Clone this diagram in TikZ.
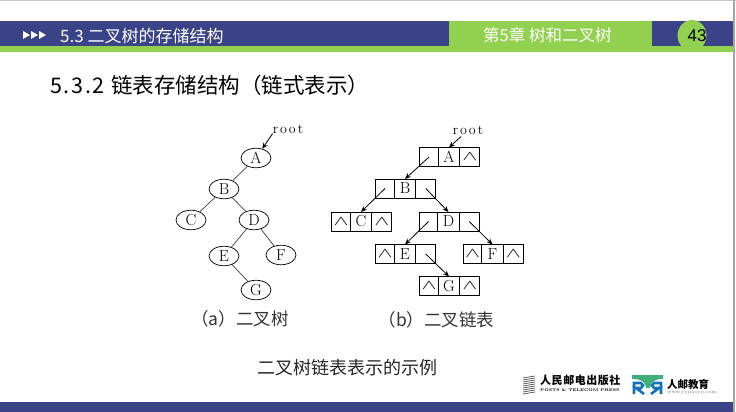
\documentclass[tikz,border=0pt]{standalone}
\usepackage{fontspec}
\usepackage{tikz}
\usetikzlibrary{positioning,shapes.geometric,arrows.meta}
\newfontfamily\cjk{Noto Sans CJK SC}
\newfontfamily\arialfont{Liberation Sans}
\newcommand{\nullptr}{\scalebox{1.3}[0.8]{$\wedge$}}
\definecolor{barblue}{HTML}{3B4388}
\definecolor{bargreen}{HTML}{92D14F}
\definecolor{logoblue}{HTML}{1273B8}
\definecolor{logogreen}{HTML}{3FAE7A}
\tikzset{
  treenode/.style={draw,ellipse,minimum width=30pt,minimum height=19.5pt,inner sep=0pt,font=\fontsize{16}{18}\selectfont,line width=.7pt},
  edge/.style={line width=.7pt,black!75},
  cell/.style={draw,minimum height=19pt,inner sep=0pt,outer sep=0pt,line width=.8pt,font=\fontsize{16}{18}\selectfont},
  leftcell/.style={cell,minimum width=18.5pt},
  midcell/.style={cell,minimum width=21.5pt},
  rightcell/.style={cell,minimum width=20pt},
  link/.style={-{Stealth[length=6pt,width=5pt]},line width=.8pt},
  rootlabel/.style={font=\fontsize{14}{16}\selectfont,inner sep=0pt},
  caption/.style={font=\cjk\fontsize{17.5}{20}\selectfont,black!80},
  headtext/.style={font=\cjk\fontsize{17}{20}\selectfont,white}
}
\begin{document}
\begin{tikzpicture}[x=1pt,y=-1pt]
    \useasboundingbox (0,0) rectangle (736,412);
    %% Slide frame
    \fill[black!22] (0,0) rectangle (736,1);
    \fill[black!35] (733,0) rectangle (735,412);
    \fill[barblue] (0,21) rectangle (733,46);
    \fill[bargreen] (0,46) rectangle (733,52);
    \fill[bargreen] (449,21) rectangle (652,46);
    \fill[barblue] (0,402) rectangle (733,412);
    \node[ellipse,fill=bargreen,minimum width=29pt,minimum height=31pt,inner sep=0pt] (badge) at (692,35.5) {};
    \node[font=\arialfont\fontsize{17}{20}\selectfont,black,xshift=5pt] (page) at (badge) {43};
    \foreach \x in {23,31,39}
      \fill[white] (\x,31) -- (\x+7,35) -- (\x,39) -- cycle;
    \node[headtext,anchor=west,inner sep=0pt] (section) at (60,36) {5.3 二叉树的存储结构};
    \node[headtext,anchor=west,inner sep=0pt,font=\cjk\fontsize{16.5}{20}\selectfont] (chapter) at (483,35) {第5章 树和二叉树};
    \node[anchor=west,inner sep=0pt,font=\cjk\fontsize{21.5}{24}\selectfont,black] (title) at (50,85.5) {\addfontfeature{LetterSpace=8}5.3.2\ \addfontfeature{LetterSpace=0}链表存储结构（链式表示）};
    %% Tree
    \node[treenode] (A) at (256,158) {A};
    \node[treenode] (B) at (224,189) {B};
    \node[treenode] (C) at (191,220) {C};
    \node[treenode] (D) at (254,220) {D};
    \node[treenode] (E) at (224,256) {E};
    \node[treenode] (F) at (281,255) {F};
    \node[treenode] (G) at (256,290) {G};
    \node[rootlabel] (root1) at (288,129) {r\kern2pt o\kern2pt o\kern2pt t};
    \draw[link] (root1.south west) -- (A);
    \draw[edge] (A) -- (B);
    \draw[edge] (B) -- (C);
    \draw[edge] (B) -- (D);
    \draw[edge] (D) -- (E);
    \draw[edge] (D) -- (F);
    \draw[edge] (E) -- (G);
    \node[caption] (cap1) at (240,319) {（a）二叉树};
    %% Linked records
    \node[leftcell] (A1) at (429,157) {};
    \node[midcell,right=0pt of A1] (A2) {A};
    \node[rightcell,right=0pt of A2] (A3) {\nullptr};
    \node[leftcell] (B1) at (385,188.5) {};
    \node[midcell,right=0pt of B1] (B2) {B};
    \node[rightcell,right=0pt of B2] (B3) {};
    \node[leftcell] (C1) at (341,221.5) {\nullptr};
    \node[midcell,right=0pt of C1] (C2) {C};
    \node[rightcell,right=0pt of C2] (C3) {\nullptr};
    \node[leftcell] (D1) at (428.5,221.5) {};
    \node[midcell,right=0pt of D1] (D2) {D};
    \node[rightcell,right=0pt of D2] (D3) {};
    \node[leftcell] (E1) at (385,254) {\nullptr};
    \node[midcell,right=0pt of E1] (E2) {E};
    \node[rightcell,right=0pt of E2] (E3) {};
    \node[leftcell] (F1) at (472.5,254) {\nullptr};
    \node[midcell,right=0pt of F1] (F2) {F};
    \node[rightcell,right=0pt of F2] (F3) {\nullptr};
    \node[leftcell] (G1) at (429,286) {\nullptr};
    \node[midcell,right=0pt of G1] (G2) {G};
    \node[rightcell,right=0pt of G2] (G3) {\nullptr};
    \node[rootlabel] (root2) at (468,130) {r\kern2pt o\kern2pt o\kern2pt t};
    \coordinate[below left=2pt and 7pt of root2.south] (root2tail);
    \draw[link] (root2tail) -- (A2.north);
    \draw[link] (A1.center) -- (B2.north);
    \draw[link] (B1.center) -- (C2.north);
    \draw[link] (B3.center) -- (D2.north);
    \draw[link] (D1.center) -- (E2.north);
    \draw[link] (D3.center) -- (F2.north);
    \draw[link] (E3.center) -- (G2.north);
    \node[caption] (cap2) at (436.5,319.5) {（b）二叉链表};
    \node[font=\cjk\fontsize{18}{22}\selectfont,black!85] (figcap) at (347,368) {二叉树链表表示的示例};
    %% Publisher marks
    \foreach \y in {377,379,...,393}
      \draw[black!70,line width=.7pt] (523,\y+1) -- (535,\y-1);
    \node[font=\cjk\bfseries\fontsize{11}{12}\selectfont,anchor=west,inner sep=0pt] (press) at (540,380) {\addfontfeature{LetterSpace=5}人民邮电出版社};
    \node[font=\fontsize{4}{5}\selectfont\bfseries,anchor=west,inner sep=0pt] (pressen) at (540,390.5) {POSTS \& TELECOM PRESS};
    \fill[logogreen] (632,375) -- (663,375) -- (663,379) .. controls (655,379) and (651,381) .. (650,388) -- (646,388) .. controls (645,381) and (641,379) .. (632,379) -- cycle;
    \draw[logoblue,line width=2.6pt] (634,394) -- (634,383) -- (641,383) -- (643,385.5) -- (641,388) -- (636,388) -- (644,394);
    \draw[logoblue,line width=2.6pt] (661,394) -- (661,383) -- (654,383) -- (652,385.5) -- (654,388) -- (659,388) -- (651,394);
    \node[font=\cjk\bfseries\fontsize{10.5}{12}\selectfont,anchor=west,inner sep=0pt] (edu) at (667,384) {人邮教育};
    \node[font=\fontsize{4.5}{5}\selectfont,black!55,anchor=west,inner sep=0pt] (site) at (667,392.5) {www.ryjiaoyu.com};
\end{tikzpicture}
\end{document}
